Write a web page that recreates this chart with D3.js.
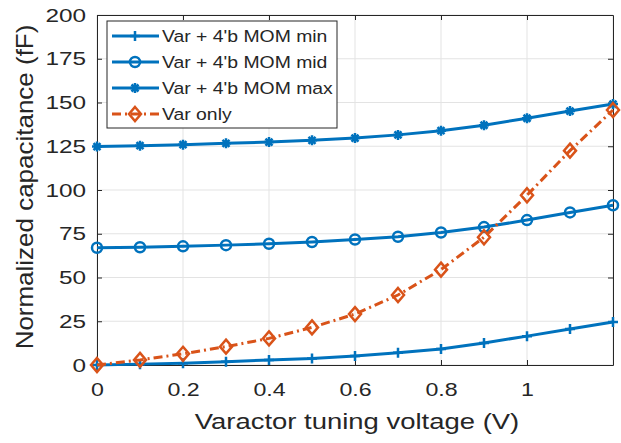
<!DOCTYPE html>
<html>
<head>
<meta charset="utf-8">
<script src="https://cdn.jsdelivr.net/npm/d3@7"></script>
<style>
  body { margin: 0; background: #fff; }
  text { font-family: "Liberation Sans", Arial, sans-serif; fill: #262626; }
</style>
</head>
<body>
<svg id="chart" width="621" height="443"></svg>
<script>
// data
let voltage = [0, 0.1, 0.2, 0.3, 0.4, 0.5, 0.6, 0.7, 0.8, 0.9, 1.0, 1.1, 1.2];
let momMin = [0, 0.5, 1.0, 1.9, 2.9, 3.7, 5.1, 7.0, 9.1, 12.6, 16.5, 20.6, 24.6];
let momMid = [67, 67.3, 67.8, 68.5, 69.3, 70.3, 71.7, 73.3, 75.7, 78.8, 82.8, 87.2, 91.3];
let momMax = [124.8, 125.3, 125.9, 126.7, 127.4, 128.4, 129.7, 131.5, 133.9, 137, 141, 145.1, 149.1];
let varOnly = [0, 2.9, 6.4, 10.5, 15.2, 21.5, 29.1, 40, 54.5, 73, 97, 122.5, 145.7];
let xTicks = [0, 0.2, 0.4, 0.6, 0.8, 1];
let yTicks = [0, 25, 50, 75, 100, 125, 150, 175, 200];

let series = [
  { name: "Var + 4'b MOM min", values: momMin, color: "#0072BD", marker: "plus", dash: null },
  { name: "Var + 4'b MOM mid", values: momMid, color: "#0072BD", marker: "circle", dash: null },
  { name: "Var + 4'b MOM max", values: momMax, color: "#0072BD", marker: "star", dash: null },
  { name: "Var only", values: varOnly, color: "#D95319", marker: "diamond", dash: "9,4,2,4" }
];

let margin = { left: 97, right: 8, top: 15, bottom: 78 };
let W = 621, H = 443;
let svg = d3.select("#chart");

let x = d3.scaleLinear().domain([0, 1.2]).range([margin.left, W - margin.right]);
let y = d3.scaleLinear().domain([0, 200]).range([H - margin.bottom, margin.top]);

// the original figure's text is a bit wider than Arial, stretch it
function widen(sel, k) {
  sel.each(function () {
    let len = this.getComputedTextLength();
    d3.select(this).attr("textLength", len * k).attr("lengthAdjust", "spacingAndGlyphs");
  });
}

// grid
let grid = svg.append("g").attr("stroke", "#e3e3e3").attr("stroke-width", 1);
xTicks.concat([1.2]).forEach(t => {
  grid.append("line").attr("x1", x(t)).attr("x2", x(t)).attr("y1", y(0)).attr("y2", y(200));
});
yTicks.forEach(t => {
  grid.append("line").attr("x1", x(0)).attr("x2", x(1.2)).attr("y1", y(t)).attr("y2", y(t));
});

// axes
let xAxis = d3.axisBottom(x).tickValues(xTicks).tickFormat(d3.format("~g")).tickSizeInner(-5).tickSizeOuter(0).tickPadding(17);
let yAxis = d3.axisLeft(y).tickValues(yTicks).tickSizeInner(-5).tickSizeOuter(0).tickPadding(11);
let xTop = d3.axisTop(x).tickValues(xTicks).tickSizeInner(-5).tickSizeOuter(0).tickFormat("");
let yRight = d3.axisRight(y).tickValues(yTicks).tickSizeInner(-5).tickSizeOuter(0).tickFormat("");

function styleAxis(g) {
  g.selectAll("path").attr("stroke", "#262626").attr("stroke-width", 1);
  g.selectAll("line").attr("stroke", "#262626");
  g.selectAll("text").style("font-size", "19px").attr("fill", "#262626")
    .style("font-family", "'Liberation Sans', Arial, sans-serif");
}
let gx = svg.append("g").attr("transform", `translate(0,${y(0)})`).call(xAxis).call(styleAxis);
let gy = svg.append("g").attr("transform", `translate(${x(0)},0)`).call(yAxis).call(styleAxis);
svg.append("g").attr("transform", `translate(0,${y(200)})`).call(xTop).call(styleAxis);
svg.append("g").attr("transform", `translate(${x(1.2)},0)`).call(yRight).call(styleAxis);
gx.selectAll("text").attr("dy", null).attr("dominant-baseline", "hanging").call(widen, 1.22);
gy.selectAll("text").call(widen, 1.28);

// axis titles
svg.append("text")
  .attr("x", (x(0) + x(1.2)) / 2 + 2).attr("y", 429)
  .attr("text-anchor", "middle").style("font-size", "22.5px")
  .text("Varactor tuning voltage (V)")
  .call(widen, 1.22);
svg.append("text")
  .attr("transform", `translate(33,187) rotate(-90)`)
  .attr("text-anchor", "middle").style("font-size", "24.5px")
  .text("Normalized capacitance (fF)")
  .call(widen, 1.06);

// markers
function drawMarker(g, type, color) {
  if (type === "plus") {
    g.append("path").attr("d", "M-5,0H5M0,-5V5").attr("stroke", color).attr("stroke-width", 2.5).attr("fill", "none");
  } else if (type === "circle") {
    g.append("circle").attr("r", 5).attr("stroke", color).attr("stroke-width", 2.5).attr("fill", "none");
  } else if (type === "star") {
    g.append("path").attr("d", "M-5,0H5M0,-5V5M-3.5,-3.5L3.5,3.5M-3.5,3.5L3.5,-3.5")
      .attr("stroke", color).attr("stroke-width", 2.5).attr("fill", "none");
  } else if (type === "diamond") {
    g.append("path").attr("d", "M0,-7L6,0L0,7L-6,0Z").attr("stroke", color).attr("stroke-width", 2.5).attr("fill", "none");
  }
}

let line = d3.line().x((d, i) => x(voltage[i])).y(d => y(d));
series.forEach(s => {
  svg.append("path")
    .attr("d", line(s.values))
    .attr("fill", "none")
    .attr("stroke", s.color)
    .attr("stroke-width", 3)
    .attr("stroke-dasharray", s.dash);
  s.values.forEach((v, i) => {
    let g = svg.append("g").attr("transform", `translate(${x(voltage[i])},${y(v)})`);
    drawMarker(g, s.marker, s.color);
  });
});

// legend
let legend = svg.append("g").attr("transform", "translate(107,21)");
legend.append("rect").attr("width", 230).attr("height", 107)
  .attr("fill", "#fff").attr("stroke", "#262626").attr("stroke-width", 1);
series.forEach((s, i) => {
  let ly = 15 + i * 26;
  legend.append("line").attr("x1", 5).attr("x2", 52).attr("y1", ly).attr("y2", ly)
    .attr("stroke", s.color).attr("stroke-width", 3).attr("stroke-dasharray", s.dash);
  let g = legend.append("g").attr("transform", `translate(28,${ly})`);
  drawMarker(g, s.marker, s.color);
  legend.append("text").attr("x", 55).attr("y", ly + 6).style("font-size", "16.3px").text(s.name)
    .call(widen, 1.19);
});
</script>
</body>
</html>
